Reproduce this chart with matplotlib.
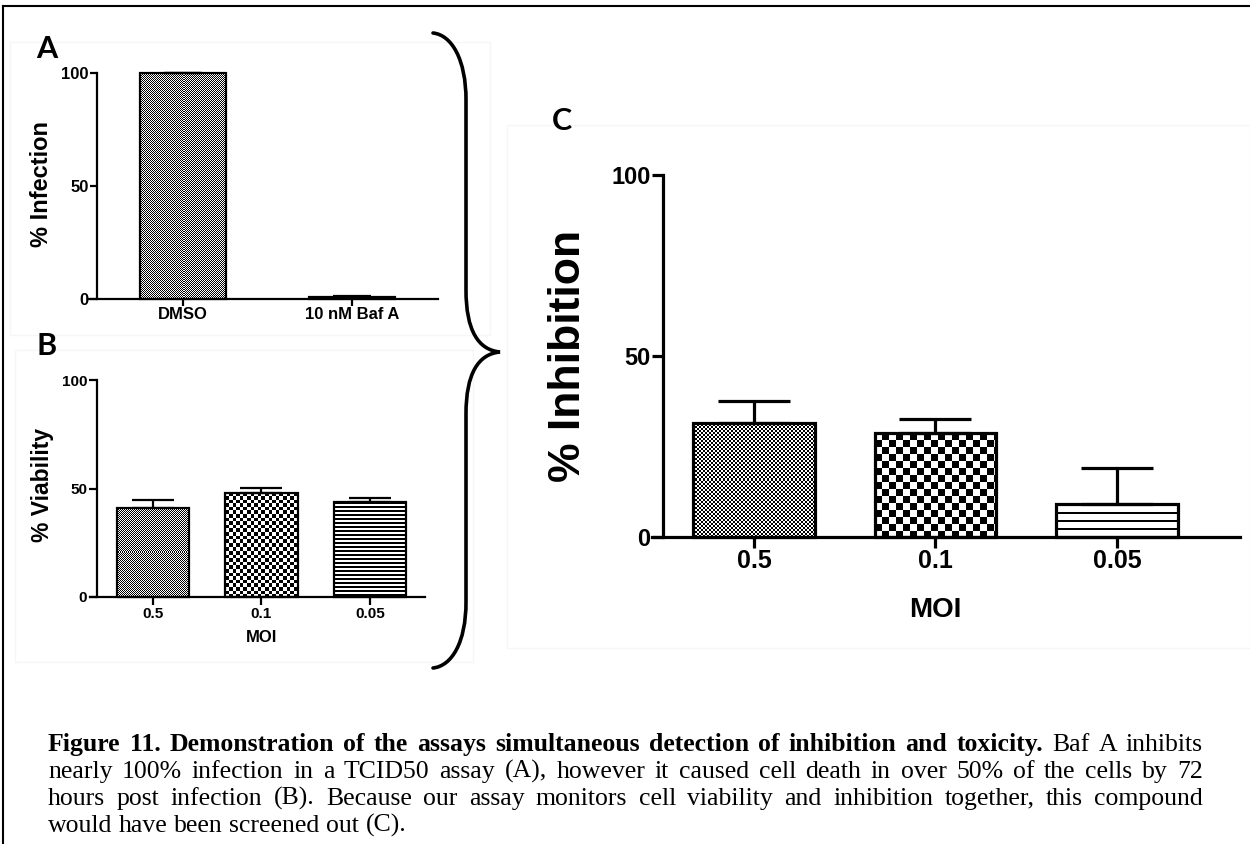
import numpy as np
import matplotlib
matplotlib.use("Agg")
import matplotlib.pyplot as plt
from matplotlib.path import Path
from matplotlib.patches import PathPatch, Rectangle
from matplotlib.lines import Line2D
from matplotlib.transforms import Affine2D

# datos de los tres paneles
grupos_a = ["DMSO", "10 nM Baf A"]
infeccion = [100, 0.8]
infeccion_err = [0, 0.6]

moi = ["0.5", "0.1", "0.05"]
viabilidad = [41.2, 48.1, 43.7]
viabilidad_err = [3.5, 2.1, 1.8]

inhibicion = [31.5, 28.7, 9.1]
inhibicion_err = [6.1, 3.9, 9.9]

W, H = 1250, 844
fig = plt.figure(figsize=(W / 100, H / 100), dpi=100)
fig.patch.set_facecolor("white")

# coordenadas en pixeles (y hacia abajo) -> figura
px = Affine2D().scale(1 / W, -1 / H).translate(0, 1) + fig.transFigure


def ejes(izq, arriba, der, abajo):
    return fig.add_axes([izq / W, 1 - abajo / H, (der - izq) / W, (abajo - arriba) / H])


def textura(ax, barra, tipo, celda, grosor=1):
    bb = barra.get_window_extent()
    w, h = int(round(bb.width)), int(round(bb.height))
    if w < 1 or h < 1:
        return
    jj, ii = np.meshgrid(np.arange(w), np.arange(h))
    if tipo == "cuadros":
        arr = (np.floor(ii / celda) + np.floor(jj / celda)) % 2
    else:
        arr = ((ii % celda) < grosor).astype(float)
    x0, y0 = barra.get_x(), barra.get_y()
    im = ax.imshow(arr[::-1], extent=[x0, x0 + barra.get_width(), y0, y0 + barra.get_height()],
                   cmap="gray_r", vmin=0, vmax=1, interpolation="nearest", aspect="auto",
                   origin="lower", zorder=1)
    im.set_clip_path(barra)


def panel(ax, etiquetas, valores, errores, xlim, x_eje, ancho, estilos, lw,
          capsize, tick_len, fs_ticks, fs_xticks):
    pos = np.arange(len(valores))
    ax.set_xlim(*xlim)
    ax.set_ylim(0, 100)
    barras = ax.bar(pos, valores, width=ancho, facecolor="none", edgecolor="black",
                    linewidth=lw, zorder=2, clip_on=False)
    for b, (tipo, celda, grosor) in zip(barras, estilos):
        textura(ax, b, tipo, celda, grosor)
    ax.errorbar(pos, valores, yerr=[np.zeros(len(errores)), errores], fmt="none",
                ecolor="black", elinewidth=lw, capsize=capsize, capthick=lw,
                zorder=3, clip_on=False)
    ax.set_xlim(*xlim)
    ax.set_ylim(0, 100)
    ax.spines[["top", "right"]].set_visible(False)
    ax.spines["left"].set_position(("data", x_eje))
    for s in ("left", "bottom"):
        ax.spines[s].set_linewidth(lw)
    ax.set_yticks([0, 50, 100])
    ax.set_xticks(pos)
    ax.set_xticklabels(etiquetas)
    ax.tick_params(axis="both", width=lw, length=tick_len, pad=1)
    for t in ax.get_yticklabels():
        t.set_fontsize(fs_ticks)
        t.set_fontweight("bold")
    for t in ax.get_xticklabels():
        t.set_fontsize(fs_xticks)
        t.set_fontweight("bold")
    ax.patch.set_visible(False)


plt.rcParams["font.family"] = ["Liberation Sans", "DejaVu Sans"]

# recuadros tenues de cada imagen
for (x0, y0, x1, y1) in [(10, 42, 490, 335), (15, 350, 473, 662), (507, 125, 1250, 648)]:
    fig.patches.append(Rectangle((x0, y0), x1 - x0, y1 - y0, transform=px, fill=False,
                                 edgecolor="#f6f6f6", linewidth=1))

# Panel A
axA = ejes(88, 73, 438, 299)
panel(axA, grupos_a, infeccion, infeccion_err, (-0.562, 1.509), -0.509, 0.51,
      [("cuadros", 1, 1), ("cuadros", 1, 1)], 1.6, 14, 5, 12, 12)
fig.text(41 / W, 1 - 184 / H, "% Infection", rotation=90, ha="center", va="center",
         fontsize=17, fontweight="bold")

# Panel B
axB = ejes(90, 380, 425, 597)
panel(axB, moi, viabilidad, viabilidad_err, (-0.58, 2.507), -0.516, 0.67,
      [("cuadros", 1, 1), ("cuadros", 3.6, 1), ("lineas", 4, 2)], 1.6, 15, 6, 11, 11)
fig.text(43 / W, 1 - 485 / H, "% Viability", rotation=90, ha="center", va="center",
         fontsize=16.5, fontweight="bold")
fig.text(262 / W, 1 - 638 / H, "MOI", ha="center", va="center", fontsize=12,
         fontweight="bold")

# Panel C
axC = ejes(652, 175, 1240, 537)
panel(axC, moi, inhibicion, inhibicion_err, (-0.562, 2.678), -0.501, 0.67,
      [("cuadros", 2, 1), ("cuadros", 7, 1), ("lineas", 8, 2)], 2.3, 26, 8, 17, 18)
fig.text(568 / W, 1 - 356 / H, "% Inhibition", rotation=90, ha="center", va="center",
         fontsize=32, fontweight="bold")
fig.text(935 / W, 1 - 610 / H, "MOI", ha="center", va="center", fontsize=20,
         fontweight="bold")

# letras de los paneles
for letra, x, y in [("A", 47, 49), ("B", 47, 346), ("C", 562, 121)]:
    fig.text(x / W, 1 - y / H, letra, ha="center", va="center", fontsize=22,
             fontweight="bold", family=["Lato", "DejaVu Sans"])

# llave que agrupa A y B
verts = [(433, 33), (452, 35), (466, 60), (466, 100),
         (466, 290),
         (466, 330), (478, 350), (500, 352),
         (478, 354), (466, 374), (466, 414),
         (466, 602),
         (466, 642), (452, 666), (433, 668)]
codes = [Path.MOVETO, Path.CURVE4, Path.CURVE4, Path.CURVE4,
         Path.LINETO,
         Path.CURVE4, Path.CURVE4, Path.CURVE4,
         Path.CURVE4, Path.CURVE4, Path.CURVE4,
         Path.LINETO,
         Path.CURVE4, Path.CURVE4, Path.CURVE4]
fig.patches.append(PathPatch(Path(verts, codes), transform=px, fill=False,
                             edgecolor="black", linewidth=2.6, capstyle="round"))

# marco de la figura
fig.lines.append(Line2D([3, W], [6, 6], transform=px, color="black", linewidth=1.5))
fig.lines.append(Line2D([3, 3], [6, H], transform=px, color="black", linewidth=1.5))

# leyenda justificada
renderer = fig.canvas.get_renderer()
fs_ley = 18.5
negrita = "Figure 11. Demonstration of the assays simultaneous detection of inhibition and toxicity."
lineas = [
    [(w, "bold") for w in negrita.split()] + [(w, "normal") for w in "Baf A inhibits".split()],
    [(w, "normal") for w in "nearly 100% infection in a TCID50 assay (A), however it caused cell death in over 50% of the cells by 72".split()],
    [(w, "normal") for w in "hours post infection (B).  Because our assay monitors cell viability and inhibition together, this compound".split()],
    [(w, "normal") for w in "would have been screened out (C).".split()],
]
bases = [751, 778, 805, 832]
x_ini, x_fin = 48, 1203


def ancho(t):
    return t.get_window_extent(renderer).width


ref1 = fig.text(0, 0, "x x", fontsize=fs_ley, family="Liberation Serif")
ref2 = fig.text(0, 0, "xx", fontsize=fs_ley, family="Liberation Serif")
espacio = ancho(ref1) - ancho(ref2)
ref1.remove()
ref2.remove()

for n, (linea, yb) in enumerate(zip(lineas, bases)):
    textos = [fig.text(0, 0, w, fontsize=fs_ley, fontweight=wt, va="baseline",
                       family="Liberation Serif") for w, wt in linea]
    anchos = [ancho(t) for t in textos]
    if n < len(lineas) - 1:
        hueco = (x_fin - x_ini - sum(anchos)) / (len(textos) - 1)
    else:
        hueco = espacio
    x = x_ini
    for t, a in zip(textos, anchos):
        t.set_position((x / W, 1 - yb / H))
        x += a + hueco

fig.savefig("out.png", dpi=100, facecolor="white")
